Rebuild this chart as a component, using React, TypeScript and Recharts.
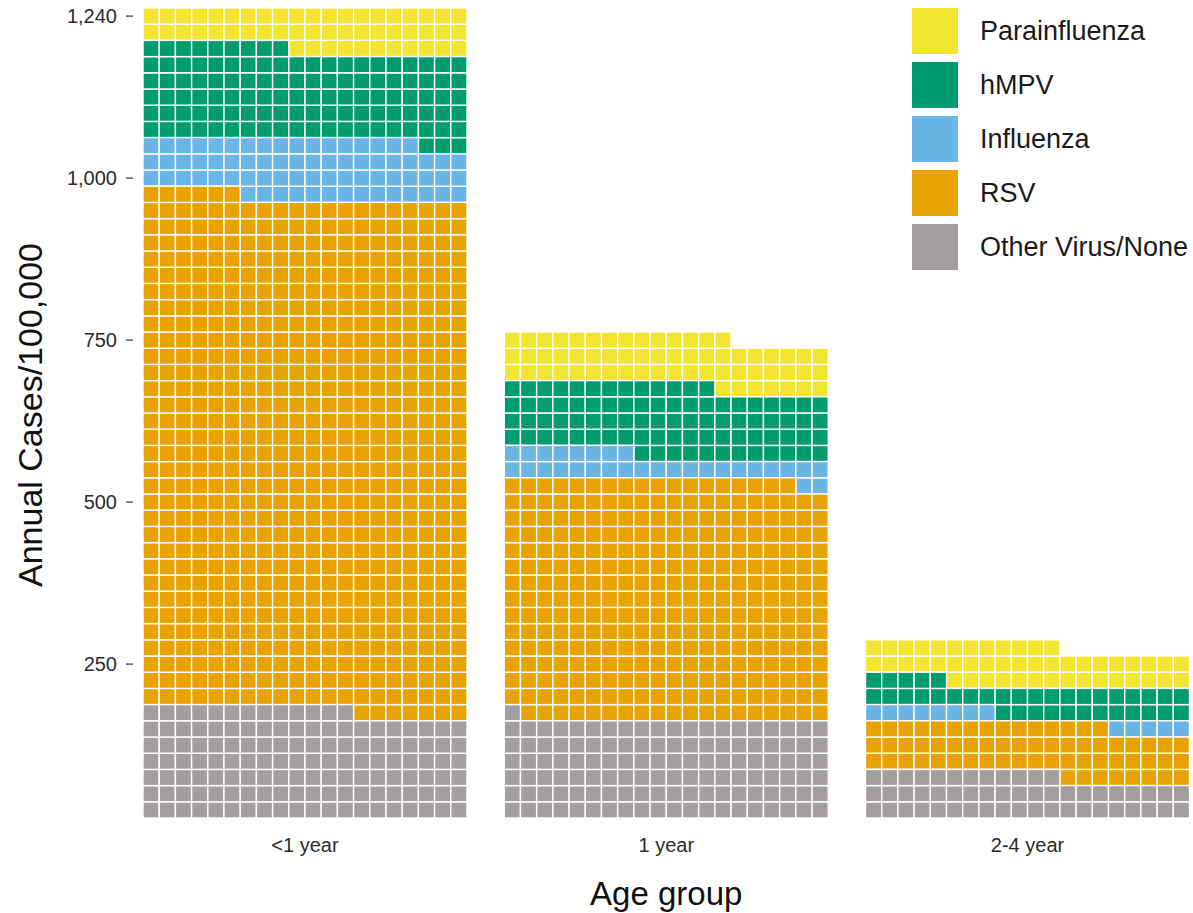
import React from "react";
import {
  ScatterChart,
  Scatter,
  XAxis,
  YAxis,
  Legend,
  Label,
} from "recharts";

// counts of waffle cells per age group (<1 year, 1 year, 2-4 year)
const ageGroups = ["<1 year", "1 year", "2-4 year"];
const paraCells = [51, 61, 47];
const hmpvCells = [112, 85, 37];
const fluCells = [71, 30, 13];
const rsvCells = [633, 297, 63];
const otherCells = [133, 121, 52];

const yTicks = [250, 500, 750, 1000, 1250];
const yTickLabels = ["250", "500", "750", "1,000", "1,240"];

const FONT = "'Liberation Sans', Arial, Helvetica, sans-serif";
const COLS = 20;
const GROUP_STRIDE = 22.3;
const ROW_UNITS = 25;
const CELL_PX = 16.2;

// legend order (top to bottom)
const series = [
  { name: "Parainfluenza", color: "#F3E532", counts: paraCells },
  { name: "hMPV", color: "#009B6E", counts: hmpvCells },
  { name: "Influenza", color: "#6BB5E6", counts: fluCells },
  { name: "RSV", color: "#E8A202", counts: rsvCells },
  { name: "Other Virus/None", color: "#A29F9E", counts: otherCells },
];

// cells fill bottom-up, left to right, starting with the last legend entry
const fillOrder = [...series].reverse();

function cellsFor(name: string) {
  const out: { x: number; y: number }[] = [];
  ageGroups.forEach((_, g) => {
    let start = 0;
    for (const s of fillOrder) {
      if (s.name === name) {
        for (let k = 0; k < s.counts[g]; k++) {
          const i = start + k;
          const row = Math.floor(i / COLS);
          const col = i % COLS;
          out.push({ x: g * GROUP_STRIDE + col + 0.5, y: (row + 1) * ROW_UNITS });
        }
        break;
      }
      start += s.counts[g];
    }
  });
  return out;
}

const Cell = (props: any) => {
  const { cx, cy, fill } = props;
  const h = CELL_PX / 2;
  return (
    <rect
      x={cx - h}
      y={cy - h}
      width={CELL_PX}
      height={CELL_PX}
      fill={fill}
      stroke="#ffffff"
      strokeWidth={1.4}
    />
  );
};

const YTick = (props: any) => {
  const { y, index } = props;
  return (
    <g>
      <line x1={126} x2={133} y1={y} y2={y} stroke="#333" strokeWidth={1.2} />
      <text
        x={117}
        y={y}
        dy="0.36em"
        textAnchor="end"
        fontFamily={FONT}
        fontSize={20}
        fill="#2b2b2b"
      >
        {yTickLabels[index]}
      </text>
    </g>
  );
};

const XTick = (props: any) => {
  const { x, index } = props;
  return (
    <text
      x={x}
      y={852}
      textAnchor="middle"
      fontFamily={FONT}
      fontSize={20}
      fill="#2b2b2b"
    >
      {ageGroups[index]}
    </text>
  );
};

const renderLegend = () => (
  <div style={{ fontFamily: FONT }}>
    {series.map((s) => (
      <div
        key={s.name}
        style={{ display: "flex", alignItems: "center", height: 54 }}
      >
        <div style={{ width: 46, height: 46, background: s.color }} />
        <span style={{ marginLeft: 22, fontSize: 27, color: "#1a1a1a" }}>
          {s.name}
        </span>
      </div>
    ))}
  </div>
);

export default function App() {
  return (
    <div style={{ position: "absolute", left: 0, top: 0, width: 1193, height: 913, background: "#fff" }}>
      <ScatterChart
        width={1193}
        height={913}
        margin={{ top: 8, right: 3.5, bottom: 0, left: 0 }}
      >
        <XAxis
          type="number"
          dataKey="x"
          domain={[0, 64.6]}
          ticks={[10, 10 + GROUP_STRIDE, 10 + 2 * GROUP_STRIDE]}
          interval={0}
          axisLine={false}
          tickLine={false}
          tick={<XTick />}
          height={86.9}
        >
          <Label
            value="Age group"
            position="insideBottom"
            offset={8}
            style={{ fontFamily: FONT, fontSize: 33, fill: "#111" }}
          />
        </XAxis>
        <YAxis
          type="number"
          dataKey="y"
          domain={[0, 1262.5]}
          ticks={yTicks}
          interval={0}
          axisLine={false}
          tickLine={false}
          tick={<YTick />}
          width={143}
        >
          <Label
            content={() => (
              <text
                transform="translate(42, 415) rotate(-90)"
                textAnchor="middle"
                fontFamily={FONT}
                fontSize={34}
                fill="#111"
              >
                Annual Cases/100,000
              </text>
            )}
          />
        </YAxis>
        <Legend
          layout="vertical"
          align="center"
          verticalAlign="middle"
          content={renderLegend}
          wrapperStyle={{ top: 4, left: 912, width: 281 }}
        />
        {series.map((s) => (
          <Scatter
            key={s.name}
            name={s.name}
            data={cellsFor(s.name)}
            fill={s.color}
            shape={<Cell />}
            isAnimationActive={false}
          />
        ))}
      </ScatterChart>
    </div>
  );
}
